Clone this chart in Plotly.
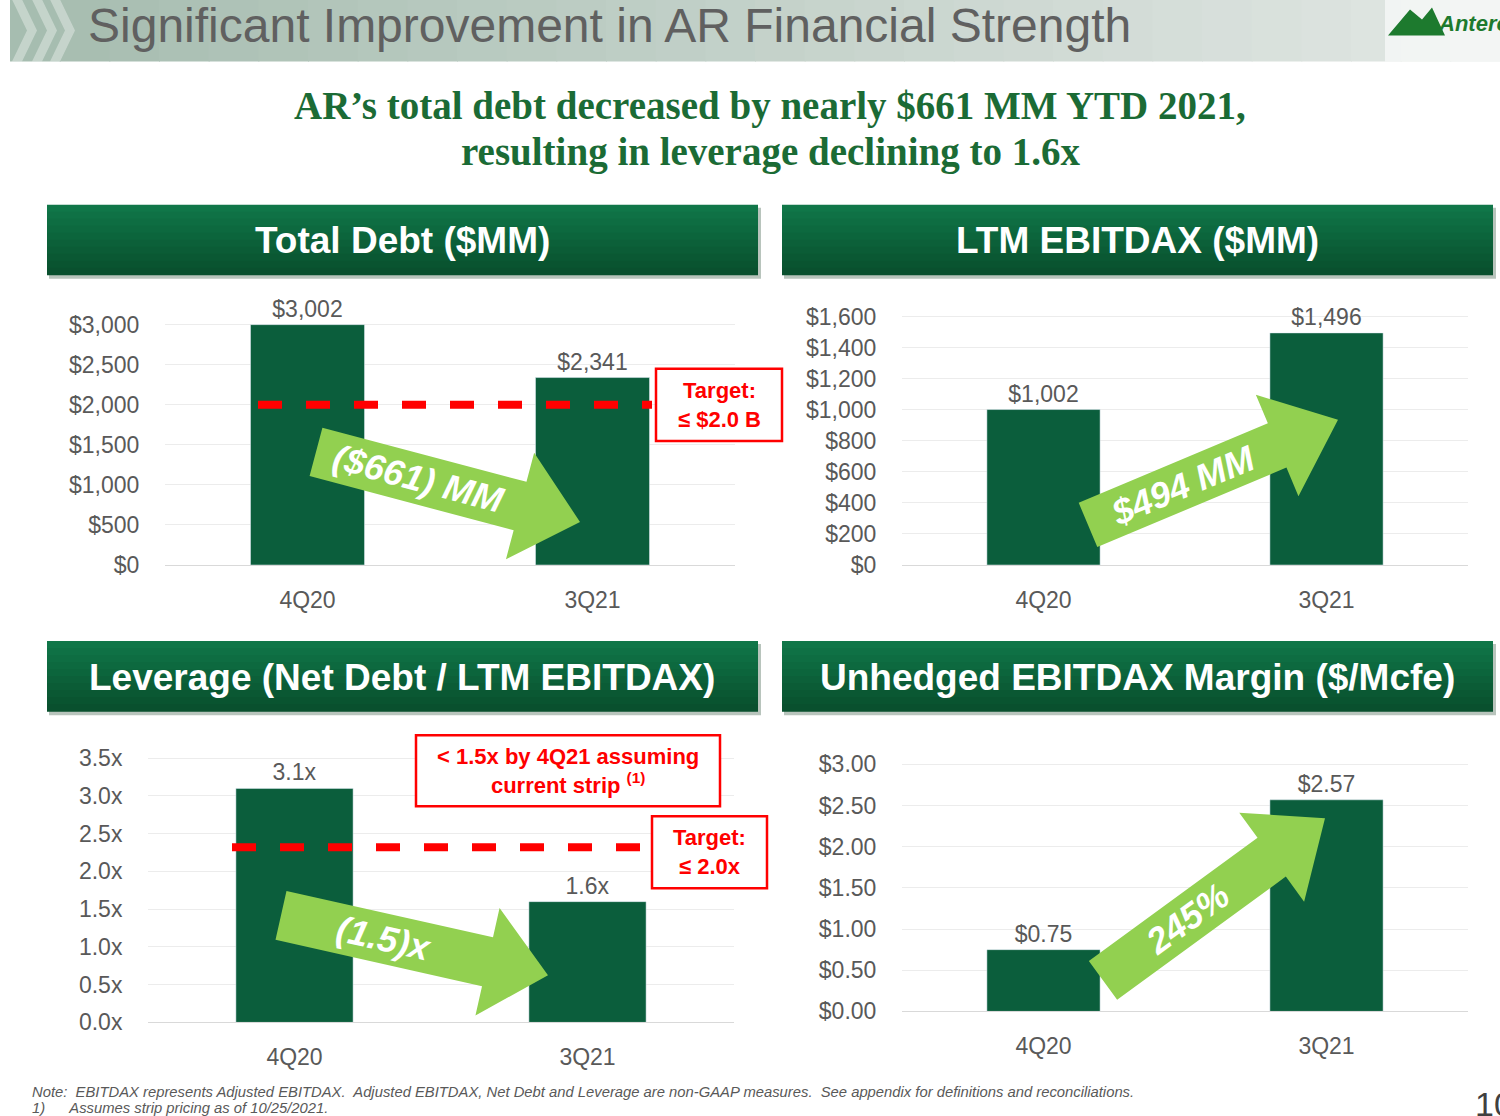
import math
import plotly.graph_objects as go

W, H = 1500, 1116
cats = ["4Q20", "3Q21"]
debt = [3002, 2341]
debt_labels = ["$3,002", "$2,341"]
ebitdax = [1002, 1496]
ebitdax_labels = ["$1,002", "$1,496"]
leverage = [3.1, 1.6]
leverage_labels = ["3.1x", "1.6x"]
margin = [0.75, 2.57]
margin_labels = ["$0.75", "$2.57"]

debt_ticks = [0, 500, 1000, 1500, 2000, 2500, 3000]
ebitdax_ticks = list(range(0, 1601, 200))
lev_ticks = [0, 0.5, 1, 1.5, 2, 2.5, 3, 3.5]
margin_ticks = [0, 0.5, 1, 1.5, 2, 2.5, 3]

def px(x): return x / W
def py(y): return 1 - ((y - 5.5) / 0.983) / H

GREEN = "#0b5e3c"
TICKC = "#595959"
FONT = "Liberation Sans"

fig = go.Figure()
panels = [
    (debt, debt_labels, debt_ticks, ["$" + f"{v:,}" for v in debt_ticks], [0, 3500], (165, 735), (565, 285)),
    (ebitdax, ebitdax_labels, ebitdax_ticks, ["$" + f"{v:,}" for v in ebitdax_ticks], [0, 1700], (902, 1468), (565, 301.5)),
    (leverage, leverage_labels, lev_ticks, [f"{v:.1f}x" for v in lev_ticks], [0, 3.6], (148, 734), (1022, 750.5)),
    (margin, margin_labels, margin_ticks, [f"${v:.2f}" for v in margin_ticks], [0, 3.1], (902, 1468), (1011, 756)),
]
for i, (vals, labs, tv, tt, rng, (xa, xb), (yb, yt)) in enumerate(panels, start=1):
    sfx = "" if i == 1 else str(i)
    fig.add_trace(go.Bar(x=cats, y=vals, text=labs, textposition="outside",
                         textfont=dict(size=23, color=TICKC, family=FONT),
                         marker=dict(color=GREEN), cliponaxis=False,
                         xaxis="x" + sfx, yaxis="y" + sfx, showlegend=False))
    fig.layout["xaxis" + sfx] = dict(domain=[px(xa), px(xb)], anchor="y" + sfx,
                                    tickfont=dict(size=23, color=TICKC, family=FONT),
                                    showline=True, linecolor="#d9d9d9", ticks="outside", ticklen=14, tickcolor="rgba(0,0,0,0)")
    fig.layout["yaxis" + sfx] = dict(domain=[max(0, py(yb)), min(1, py(yt))], anchor="x" + sfx, range=rng,
                                    tickvals=tv, ticktext=tt, showgrid=True, gridcolor="#ececec",
                                    zeroline=False, tickfont=dict(size=23, color=TICKC, family=FONT),
                                    ticks="outside", ticklen=20, tickcolor="rgba(0,0,0,0)")
fig.update_layout(bargap=0.6)

shapes, anns = [], []

def rect(x0, y0, x1, y1, color, line=None):
    shapes.append(dict(type="rect", xref="paper", yref="paper", x0=px(x0), x1=px(x1),
                       y0=py(y1), y1=py(y0), fillcolor=color, layer="below",
                       line=dict(width=0) if line is None else line))

def text(x, y, t, size, color, family=FONT, xanchor="center", angle=0):
    anns.append(dict(x=px(x), y=py(y), xref="paper", yref="paper", xanchor=xanchor, yanchor="middle",
                     showarrow=False, text=t, textangle=angle,
                     font=dict(size=size, color=color, family=family)))

# title banner gradient
n = 30
for k in range(n):
    t = k / (n - 1)
    c1, c2 = (166, 189, 176), (226, 231, 228)
    c = tuple(int(c1[j] + (c2[j] - c1[j]) * t) for j in range(3))
    rect(10 + k * 1490 / n, -10, 10 + (k + 1) * 1490 / n + 1, 62, "rgb(%d,%d,%d)" % c)
for xo in (12, 32, 50):
    shapes.append(dict(type="path", xref="paper", yref="paper", fillcolor="rgba(255,255,255,0.35)",
                       line=dict(width=0),
                       path="M %f %f L %f %f L %f %f L %f %f L %f %f L %f %f Z" % (
                           px(xo), py(0), px(xo + 10), py(0), px(xo + 25), py(31),
                           px(xo + 10), py(62), px(xo), py(62), px(xo + 15), py(31))))
text(86, 26, "Significant Improvement in AR Financial Strength", 48, "#606060", xanchor="left")
rect(1385, -10, 1500, 62, "rgba(255,255,255,0.6)")
shapes.append(dict(type="path", xref="paper", yref="paper", fillcolor="#1d7a2e", line=dict(width=0),
                   path="M %f %f L %f %f L %f %f L %f %f L %f %f Z" % (
                       px(1388), py(36), px(1410), py(10), px(1422), py(20), px(1432), py(8), px(1445), py(36))))
text(1436, 24, "<i><b>Antero</b></i>", 22, "#1d7a2e", xanchor="left")

text(770, 106, "<b>AR’s total debt decreased by nearly $661 MM YTD 2021,</b>", 39, "#1b6b35", "Liberation Serif")
text(770, 152, "<b>resulting in leverage declining to 1.6x</b>", 39, "#1b6b35", "Liberation Serif")

# headers
for (x0, y0, x1, y1, txt) in [(47, 205, 758, 275, "Total Debt ($MM)"),
                              (782, 205, 1493, 275, "LTM EBITDAX ($MM)"),
                              (47, 641, 758, 711, "Leverage (Net Debt / LTM EBITDAX)"),
                              (782, 641, 1493, 711, "Unhedged EBITDAX Margin ($/Mcfe)")]:
    rect(x0 + 2, y0 + 3, x1 + 3, y1 + 4, "#b8c4bc")
    m = 10
    for k in range(m):
        t = k / (m - 1)
        c1, c2 = (16, 118, 72), (9, 80, 46)
        c = tuple(int(c1[j] + (c2[j] - c1[j]) * t) for j in range(3))
        rect(x0, y0 + k * (y1 - y0) / m, x1, y0 + (k + 1) * (y1 - y0) / m + 0.5, "rgb(%d,%d,%d)" % c)
    text((x0 + x1) / 2, (y0 + y1) / 2 + 1, "<b>" + txt + "</b>", 37, "white")

# dashed target lines
shapes.append(dict(type="line", xref="paper", yref="y", x0=px(258), x1=px(652), y0=2000, y1=2000,
                   line=dict(color="#ff0000", width=8, dash="dash"), layer="above"))
shapes.append(dict(type="line", xref="paper", yref="y3", x0=px(232), x1=px(645), y0=2.32, y1=2.32,
                   line=dict(color="#ff0000", width=8, dash="dash"), layer="above"))

def redbox(x0, y0, x1, y1, txt):
    shapes.append(dict(type="rect", xref="paper", yref="paper", x0=px(x0), x1=px(x1), y0=py(y1), y1=py(y0),
                       fillcolor="white", line=dict(color="#ff0000", width=2.5), layer="above"))
    text((x0 + x1) / 2, (y0 + y1) / 2, txt, 22, "#ff0000")

redbox(656, 369, 782, 441, "<b>Target:<br>≤ $2.0 B</b>")
redbox(416, 735, 720, 806, "<b>< 1.5x by 4Q21 assuming<br>current strip <sup>(1)</sup></b>")
redbox(652, 816, 767, 888, "<b>Target:<br>≤ 2.0x</b>")

def arrow(x0, y0, x1, y1, bw, hw, hl, txt, tsize):
    L = math.hypot(x1 - x0, y1 - y0)
    ux, uy = (x1 - x0) / L, (y1 - y0) / L
    nx, ny = -uy, ux
    bx, by = x1 - ux * hl, y1 - uy * hl
    pts = [(x0 + nx * bw / 2, y0 + ny * bw / 2), (bx + nx * bw / 2, by + ny * bw / 2),
           (bx + nx * hw / 2, by + ny * hw / 2), (x1, y1),
           (bx - nx * hw / 2, by - ny * hw / 2), (bx - nx * bw / 2, by - ny * bw / 2),
           (x0 - nx * bw / 2, y0 - ny * bw / 2)]
    path = "M " + " L ".join("%f %f" % (px(a), py(b)) for a, b in pts) + " Z"
    shapes.append(dict(type="path", xref="paper", yref="paper", path=path, fillcolor="#92d050",
                       line=dict(width=0), layer="above"))
    ang = math.degrees(math.atan2(y1 - y0, x1 - x0))
    cx, cy = x0 + ux * (L - hl) * 0.5, y0 + uy * (L - hl) * 0.5
    text(cx, cy, "<b><i>" + txt + "</i></b>", tsize, "white", angle=ang)

arrow(316, 452, 580, 522, 50, 110, 62, "($661) MM", 36)
arrow(1088, 525, 1338, 420, 48, 110, 66, "$494 MM", 36)
arrow(281, 915, 548, 975, 50, 110, 62, "(1.5)x", 36)
arrow(1103, 980, 1325, 818, 48, 110, 66, "245%", 36)

text(30, 1092, "<i>Note:  EBITDAX represents Adjusted EBITDAX.  Adjusted EBITDAX, Net Debt and Leverage are non-GAAP measures.  See appendix for definitions and reconciliations.</i>",
     14.8, "#595959", xanchor="left")
text(30, 1108, "<i>1)      Assumes strip pricing as of 10/25/2021.</i>", 14.8, "#595959", xanchor="left")
text(1473, 1104, "10", 34, "#404040", xanchor="left")

fig.update_layout(width=W, height=H, margin=dict(l=0, r=0, t=0, b=0), plot_bgcolor="white",
                  paper_bgcolor="white", shapes=shapes, annotations=anns)
fig.write_html("out.html", config={"displayModeBar": False},
               post_script="document.body.style.margin='0';")
